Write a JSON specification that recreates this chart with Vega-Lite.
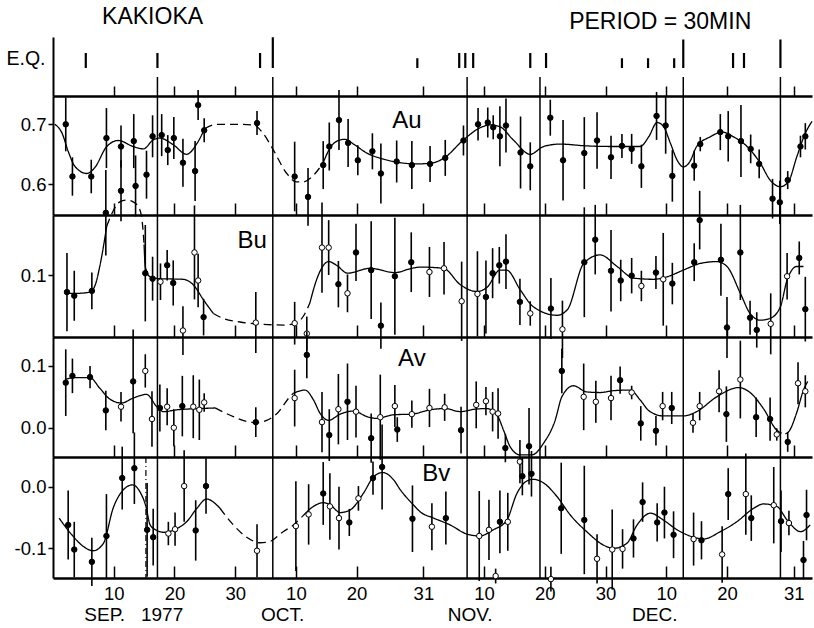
{
  "$schema": "https://vega.github.io/schema/vega-lite/v6.json",
  "padding": {"left": 5, "top": 0, "right": 0, "bottom": 4},
  "spacing": 0,
  "bounds": "flush",
  "config": {
    "view": {"stroke": null},
    "font": "Liberation Sans",
    "axis": {"grid": false, "labelFont": "Liberation Sans", "labelFontSize": 18.5, "labelColor": "black", "domainColor": "black", "tickColor": "black"},
    "text": {"font": "Liberation Sans", "color": "black"}
  },
  "datasets": {
    "ev": [{"d": 17.2}, {"d": 36.2}, {"d": 68.2}, {"d": 80.2}, {"d": 103.8}, {"d": 119.8}],
    "eq": [
      {"d": 5.4, "m": 1}, {"d": 17.2, "m": 1}, {"d": 34.1, "m": 1}, {"d": 36.2, "m": 2.05},
      {"d": 60.0, "m": 0.65}, {"d": 66.9, "m": 1}, {"d": 67.9, "m": 1}, {"d": 69.2, "m": 1},
      {"d": 78.6, "m": 1}, {"d": 81.2, "m": 1}, {"d": 93.7, "m": 0.65}, {"d": 98.0, "m": 0.65},
      {"d": 102.3, "m": 0.65}, {"d": 103.8, "m": 1.9}, {"d": 112.0, "m": 1}, {"d": 113.8, "m": 1}, {"d": 119.8, "m": 1.9}
    ],
    "pts": [
      {"p":"Au","d":2.1,"v":0.700,"e":0.045,"o":0},{"p":"Au","d":3.2,"v":0.613,"e":0.032,"o":0},{"p":"Au","d":6.3,"v":0.613,"e":0.028,"o":0},{"p":"Au","d":8.8,"v":0.677,"e":0.05,"o":0},{"p":"Au","d":11.2,"v":0.663,"e":0.035,"o":0},{"p":"Au","d":13.3,"v":0.672,"e":0.045,"o":0},{"p":"Au","d":15.4,"v":0.616,"e":0.04,"o":0},{"p":"Au","d":16.4,"v":0.68,"e":0.035,"o":0},{"p":"Au","d":17.9,"v":0.682,"e":0.035,"o":0},{"p":"Au","d":18.9,"v":0.657,"e":0.025,"o":0},{"p":"Au","d":19.9,"v":0.677,"e":0.035,"o":0},{"p":"Au","d":21.4,"v":0.636,"e":0.04,"o":0},{"p":"Au","d":23.4,"v":0.622,"e":0.05,"o":0},{"p":"Au","d":23.9,"v":0.732,"e":0.025,"o":0},{"p":"Au","d":24.9,"v":0.69,"e":0.02,"o":0},{"p":"Au","d":33.6,"v":0.702,"e":0.02,"o":0},{"p":"Au","d":39.8,"v":0.613,"e":0.058,"o":0},{"p":"Au","d":42.0,"v":0.579,"e":0.048,"o":0},{"p":"Au","d":44.5,"v":0.632,"e":0.04,"o":0},{"p":"Au","d":45.5,"v":0.663,"e":0.04,"o":0},{"p":"Au","d":47.1,"v":0.707,"e":0.05,"o":0},{"p":"Au","d":48.6,"v":0.669,"e":0.04,"o":0},{"p":"Au","d":50.2,"v":0.64,"e":0.025,"o":0},{"p":"Au","d":52.6,"v":0.655,"e":0.03,"o":0},{"p":"Au","d":54.0,"v":0.618,"e":0.05,"o":0},{"p":"Au","d":56.6,"v":0.638,"e":0.035,"o":0},{"p":"Au","d":59.1,"v":0.632,"e":0.04,"o":0},{"p":"Au","d":62.1,"v":0.634,"e":0.03,"o":0},{"p":"Au","d":64.6,"v":0.644,"e":0.03,"o":0},{"p":"Au","d":67.6,"v":0.673,"e":0.025,"o":0},{"p":"Au","d":70.0,"v":0.70,"e":0.027,"o":0},{"p":"Au","d":71.6,"v":0.703,"e":0.025,"o":0},{"p":"Au","d":72.5,"v":0.695,"e":0.02,"o":0},{"p":"Au","d":73.6,"v":0.68,"e":0.05,"o":0},{"p":"Au","d":74.6,"v":0.698,"e":0.045,"o":0},{"p":"Au","d":77.0,"v":0.653,"e":0.06,"o":0},{"p":"Au","d":78.6,"v":0.63,"e":0.04,"o":0},{"p":"Au","d":81.9,"v":0.711,"e":0.03,"o":0},{"p":"Au","d":84.0,"v":0.64,"e":0.067,"o":0},{"p":"Au","d":87.5,"v":0.652,"e":0.06,"o":0},{"p":"Au","d":89.6,"v":0.673,"e":0.047,"o":0},{"p":"Au","d":91.9,"v":0.645,"e":0.036,"o":0},{"p":"Au","d":93.7,"v":0.664,"e":0.02,"o":0},{"p":"Au","d":95.3,"v":0.659,"e":0.025,"o":0},{"p":"Au","d":96.9,"v":0.63,"e":0.036,"o":0},{"p":"Au","d":99.4,"v":0.714,"e":0.04,"o":0},{"p":"Au","d":100.9,"v":0.698,"e":0.047,"o":0},{"p":"Au","d":102.0,"v":0.614,"e":0.043,"o":0},{"p":"Au","d":105.6,"v":0.631,"e":0.025,"o":0},{"p":"Au","d":106.6,"v":0.667,"e":0.012,"o":0},{"p":"Au","d":109.9,"v":0.687,"e":0.03,"o":0},{"p":"Au","d":111.2,"v":0.68,"e":0.042,"o":0},{"p":"Au","d":113.3,"v":0.672,"e":0.06,"o":0},{"p":"Au","d":114.9,"v":0.659,"e":0.024,"o":0},{"p":"Au","d":116.3,"v":0.634,"e":0.024,"o":0},{"p":"Au","d":118.5,"v":0.576,"e":0.033,"o":0},{"p":"Au","d":119.7,"v":0.57,"e":0.036,"o":0},{"p":"Au","d":121.0,"v":0.607,"e":0.015,"o":0},{"p":"Au","d":123.1,"v":0.663,"e":0.018,"o":0},{"p":"Au","d":123.9,"v":0.68,"e":0.022,"o":0},
      {"p":"Bu","d":2.3,"v":0.072,"e":0.064,"o":0},{"p":"Bu","d":3.5,"v":0.066,"e":0.041,"o":0},{"p":"Bu","d":6.4,"v":0.074,"e":0.03,"o":0},{"p":"Bu","d":8.7,"v":0.202,"e":0.07,"o":0},{"p":"Bu","d":11.2,"v":0.238,"e":0.05,"o":0},{"p":"Bu","d":13.6,"v":0.246,"e":0.05,"o":0},{"p":"Bu","d":15.2,"v":0.103,"e":0.079,"o":0},{"p":"Bu","d":16.4,"v":0.094,"e":0.036,"o":0},{"p":"Bu","d":17.7,"v":0.089,"e":0.03,"o":1},{"p":"Bu","d":18.8,"v":0.116,"e":0.025,"o":0},{"p":"Bu","d":19.8,"v":0.087,"e":0.037,"o":0},{"p":"Bu","d":21.4,"v":0.009,"e":0.04,"o":1},{"p":"Bu","d":23.3,"v":0.137,"e":0.077,"o":1},{"p":"Bu","d":23.9,"v":0.091,"e":0.044,"o":1},{"p":"Bu","d":24.8,"v":0.031,"e":0.03,"o":0},{"p":"Bu","d":33.4,"v":0.022,"e":0.05,"o":1},{"p":"Bu","d":39.8,"v":0.021,"e":0.035,"o":1},{"p":"Bu","d":41.8,"v":0.004,"e":0.028,"o":1},{"p":"Bu","d":44.3,"v":0.145,"e":0.074,"o":1},{"p":"Bu","d":45.4,"v":0.145,"e":0.045,"o":1},{"p":"Bu","d":47.0,"v":0.085,"e":0.038,"o":0},{"p":"Bu","d":48.5,"v":0.070,"e":0.031,"o":1},{"p":"Bu","d":49.9,"v":0.137,"e":0.047,"o":0},{"p":"Bu","d":52.4,"v":0.108,"e":0.08,"o":0},{"p":"Bu","d":54.0,"v":0.017,"e":0.038,"o":0},{"p":"Bu","d":56.3,"v":0.098,"e":0.096,"o":0},{"p":"Bu","d":59.0,"v":0.121,"e":0.049,"o":0},{"p":"Bu","d":62.0,"v":0.105,"e":0.041,"o":1},{"p":"Bu","d":64.4,"v":0.111,"e":0.043,"o":1},{"p":"Bu","d":67.3,"v":0.057,"e":0.065,"o":1},{"p":"Bu","d":69.9,"v":0.069,"e":0.07,"o":1},{"p":"Bu","d":71.3,"v":0.064,"e":0.06,"o":0},{"p":"Bu","d":72.4,"v":0.103,"e":0.041,"o":0},{"p":"Bu","d":73.5,"v":0.116,"e":0.03,"o":0},{"p":"Bu","d":74.6,"v":0.122,"e":0.045,"o":0},{"p":"Bu","d":76.9,"v":0.056,"e":0.038,"o":0},{"p":"Bu","d":78.6,"v":0.037,"e":0.02,"o":1},{"p":"Bu","d":82.0,"v":0.045,"e":0.05,"o":0},{"p":"Bu","d":83.9,"v":0.011,"e":0.047,"o":1},{"p":"Bu","d":87.5,"v":0.121,"e":0.09,"o":0},{"p":"Bu","d":89.3,"v":0.158,"e":0.057,"o":0},{"p":"Bu","d":91.9,"v":0.107,"e":0.067,"o":0},{"p":"Bu","d":93.5,"v":0.091,"e":0.034,"o":0},{"p":"Bu","d":95.3,"v":0.099,"e":0.029,"o":0},{"p":"Bu","d":96.9,"v":0.082,"e":0.025,"o":1},{"p":"Bu","d":99.3,"v":0.104,"e":0.027,"o":0},{"p":"Bu","d":100.5,"v":0.093,"e":0.076,"o":1},{"p":"Bu","d":102.0,"v":0.086,"e":0.034,"o":0},{"p":"Bu","d":105.6,"v":0.121,"e":0.031,"o":0},{"p":"Bu","d":106.5,"v":0.19,"e":0.048,"o":0},{"p":"Bu","d":110.0,"v":0.125,"e":0.059,"o":0},{"p":"Bu","d":111.0,"v":0.014,"e":0.05,"o":0},{"p":"Bu","d":113.2,"v":0.137,"e":0.078,"o":0},{"p":"Bu","d":114.8,"v":0.03,"e":0.028,"o":0},{"p":"Bu","d":115.9,"v":0.01,"e":0.029,"o":0},{"p":"Bu","d":118.2,"v":0.02,"e":0.05,"o":1},{"p":"Bu","d":120.9,"v":0.098,"e":0.038,"o":1},{"p":"Bu","d":122.9,"v":0.128,"e":0.027,"o":0},{"p":"Bu","d":123.9,"v":0.044,"e":0.053,"o":0},
      {"p":"Av","d":2.1,"v":0.073,"e":0.054,"o":0},{"p":"Av","d":3.2,"v":0.084,"e":0.028,"o":0},{"p":"Av","d":6.1,"v":0.082,"e":0.018,"o":0},{"p":"Av","d":8.7,"v":0.028,"e":0.032,"o":0},{"p":"Av","d":11.2,"v":0.034,"e":0.024,"o":1},{"p":"Av","d":13.2,"v":0.075,"e":0.084,"o":0},{"p":"Av","d":15.2,"v":0.092,"e":0.027,"o":1},{"p":"Av","d":16.3,"v":0.014,"e":0.045,"o":1},{"p":"Av","d":17.6,"v":0.032,"e":0.038,"o":0},{"p":"Av","d":18.8,"v":0.034,"e":0.03,"o":1},{"p":"Av","d":19.9,"v":0.0,"e":0.03,"o":1},{"p":"Av","d":21.3,"v":0.035,"e":0.049,"o":0},{"p":"Av","d":23.1,"v":0.034,"e":0.051,"o":1},{"p":"Av","d":24.1,"v":0.029,"e":0.049,"o":1},{"p":"Av","d":24.9,"v":0.041,"e":0.015,"o":1},{"p":"Av","d":33.4,"v":0.009,"e":0.024,"o":0},{"p":"Av","d":39.8,"v":0.048,"e":0.046,"o":1},{"p":"Av","d":41.8,"v":0.118,"e":0.038,"o":0},{"p":"Av","d":44.3,"v":0.009,"e":0.049,"o":1},{"p":"Av","d":45.5,"v":-0.012,"e":0.042,"o":0},{"p":"Av","d":47.0,"v":0.030,"e":0.057,"o":1},{"p":"Av","d":48.5,"v":0.042,"e":0.062,"o":0},{"p":"Av","d":49.9,"v":0.026,"e":0.042,"o":1},{"p":"Av","d":52.4,"v":-0.017,"e":0.04,"o":0},{"p":"Av","d":53.9,"v":0.017,"e":0.069,"o":1},{"p":"Av","d":56.3,"v":0.035,"e":0.034,"o":1},{"p":"Av","d":56.7,"v":-0.003,"e":0.02,"o":0},{"p":"Av","d":59.1,"v":0.022,"e":0.022,"o":1},{"p":"Av","d":62.0,"v":0.032,"e":0.031,"o":1},{"p":"Av","d":64.5,"v":0.033,"e":0.022,"o":1},{"p":"Av","d":67.2,"v":-0.004,"e":0.038,"o":0},{"p":"Av","d":69.7,"v":0.037,"e":0.038,"o":1},{"p":"Av","d":71.3,"v":0.043,"e":0.023,"o":1},{"p":"Av","d":72.4,"v":0.026,"e":0.032,"o":1},{"p":"Av","d":73.3,"v":0.023,"e":0.041,"o":1},{"p":"Av","d":74.5,"v":-0.033,"e":0.023,"o":0},{"p":"Av","d":76.9,"v":-0.055,"e":0.035,"o":1},{"p":"Av","d":78.4,"v":-0.03,"e":0.062,"o":0},{"p":"Av","d":83.8,"v":0.092,"e":0.036,"o":0},{"p":"Av","d":87.4,"v":0.05,"e":0.054,"o":1},{"p":"Av","d":89.4,"v":0.042,"e":0.034,"o":1},{"p":"Av","d":91.9,"v":0.048,"e":0.036,"o":1},{"p":"Av","d":93.4,"v":0.077,"e":0.022,"o":0},{"p":"Av","d":95.3,"v":0.057,"e":0.011,"o":1},{"p":"Av","d":96.8,"v":0.007,"e":0.028,"o":0},{"p":"Av","d":99.3,"v":-0.005,"e":0.024,"o":0},{"p":"Av","d":100.4,"v":0.035,"e":0.023,"o":1},{"p":"Av","d":101.9,"v":0.032,"e":0.026,"o":0},{"p":"Av","d":105.4,"v":0.008,"e":0.016,"o":1},{"p":"Av","d":106.5,"v":0.035,"e":0.023,"o":1},{"p":"Av","d":109.7,"v":0.059,"e":0.034,"o":1},{"p":"Av","d":110.9,"v":0.022,"e":0.045,"o":0},{"p":"Av","d":113.2,"v":0.078,"e":0.063,"o":1},{"p":"Av","d":115.8,"v":0.017,"e":0.032,"o":0},{"p":"Av","d":118.1,"v":0.014,"e":0.035,"o":0},{"p":"Av","d":119.2,"v":-0.011,"e":0.01,"o":1},{"p":"Av","d":121.0,"v":-0.023,"e":0.016,"o":0},{"p":"Av","d":122.7,"v":0.072,"e":0.034,"o":1},{"p":"Av","d":123.9,"v":0.059,"e":0.026,"o":1},
      {"p":"Bv","d":2.5,"v":-0.062,"e":0.056,"o":0},{"p":"Bv","d":3.5,"v":-0.102,"e":0.045,"o":0},{"p":"Bv","d":6.4,"v":-0.122,"e":0.039,"o":0},{"p":"Bv","d":8.8,"v":-0.080,"e":0.068,"o":0},{"p":"Bv","d":11.4,"v":0.014,"e":0.051,"o":0},{"p":"Bv","d":13.4,"v":0.030,"e":0.058,"o":0},{"p":"Bv","d":15.5,"v":-0.070,"e":0.076,"o":0},{"p":"Bv","d":16.5,"v":-0.082,"e":0.046,"o":0},{"p":"Bv","d":19.0,"v":-0.076,"e":0.019,"o":1},{"p":"Bv","d":20.1,"v":-0.069,"e":0.027,"o":1},{"p":"Bv","d":21.6,"v":0.001,"e":0.058,"o":1},{"p":"Bv","d":23.5,"v":-0.071,"e":0.049,"o":0},{"p":"Bv","d":25.2,"v":0.001,"e":0.045,"o":0},{"p":"Bv","d":33.6,"v":-0.104,"e":0.043,"o":1},{"p":"Bv","d":40.0,"v":-0.064,"e":0.073,"o":1},{"p":"Bv","d":42.1,"v":-0.045,"e":0.049,"o":1},{"p":"Bv","d":44.5,"v":-0.011,"e":0.051,"o":0},{"p":"Bv","d":45.6,"v":-0.032,"e":0.054,"o":1},{"p":"Bv","d":47.1,"v":-0.051,"e":0.051,"o":1},{"p":"Bv","d":48.8,"v":-0.058,"e":0.022,"o":0},{"p":"Bv","d":50.3,"v":-0.019,"e":0.02,"o":1},{"p":"Bv","d":52.7,"v":0.014,"e":0.027,"o":0},{"p":"Bv","d":54.2,"v":0.032,"e":0.069,"o":0},{"p":"Bv","d":59.2,"v":-0.052,"e":0.054,"o":0},{"p":"Bv","d":62.4,"v":-0.065,"e":0.038,"o":1},{"p":"Bv","d":64.7,"v":-0.051,"e":0.043,"o":0},{"p":"Bv","d":70.2,"v":-0.080,"e":0.073,"o":1},{"p":"Bv","d":71.8,"v":-0.070,"e":0.049,"o":1},{"p":"Bv","d":72.9,"v":-0.145,"e":0.012,"o":1},{"p":"Bv","d":73.6,"v":-0.057,"e":0.051,"o":0},{"p":"Bv","d":74.9,"v":-0.057,"e":0.047,"o":1},{"p":"Bv","d":77.3,"v":0.017,"e":0.031,"o":0},{"p":"Bv","d":78.8,"v":0.021,"e":0.037,"o":0},{"p":"Bv","d":82.0,"v":-0.15,"e":0.02,"o":1},{"p":"Bv","d":83.7,"v":-0.035,"e":0.074,"o":0},{"p":"Bv","d":87.5,"v":-0.054,"e":0.088,"o":0},{"p":"Bv","d":89.6,"v":-0.117,"e":0.04,"o":1},{"p":"Bv","d":92.1,"v":-0.102,"e":0.065,"o":1},{"p":"Bv","d":93.8,"v":-0.101,"e":0.032,"o":1},{"p":"Bv","d":95.6,"v":-0.084,"e":0.031,"o":0},{"p":"Bv","d":97.1,"v":-0.025,"e":0.032,"o":0},{"p":"Bv","d":99.5,"v":-0.058,"e":0.031,"o":0},{"p":"Bv","d":100.7,"v":-0.042,"e":0.042,"o":0},{"p":"Bv","d":102.2,"v":-0.078,"e":0.038,"o":0},{"p":"Bv","d":105.5,"v":-0.085,"e":0.043,"o":1},{"p":"Bv","d":106.8,"v":-0.087,"e":0.031,"o":0},{"p":"Bv","d":110.2,"v":-0.11,"e":0.046,"o":1},{"p":"Bv","d":111.2,"v":-0.012,"e":0.042,"o":0},{"p":"Bv","d":114.1,"v":-0.012,"e":0.066,"o":1},{"p":"Bv","d":115.0,"v":-0.051,"e":0.037,"o":0},{"p":"Bv","d":118.7,"v":-0.03,"e":0.062,"o":1},{"p":"Bv","d":119.9,"v":-0.056,"e":0.05,"o":0},{"p":"Bv","d":121.2,"v":-0.059,"e":0.02,"o":1},{"p":"Bv","d":123.6,"v":-0.119,"e":0.031,"o":0},{"p":"Bv","d":124.1,"v":-0.046,"e":0.041,"o":0}
    ],
    "crv": [
      {"p":"Au","s":"a1","t":"s","d":0.3,"v":0.700},{"p":"Au","s":"a1","t":"s","d":1.5,"v":0.685},{"p":"Au","s":"a1","t":"s","d":2.5,"v":0.655},{"p":"Au","s":"a1","t":"s","d":3.6,"v":0.630},{"p":"Au","s":"a1","t":"s","d":5.55,"v":0.618},{"p":"Au","s":"a1","t":"s","d":6.9,"v":0.628},{"p":"Au","s":"a1","t":"s","d":8.85,"v":0.663},{"p":"Au","s":"a1","t":"s","d":10.75,"v":0.673},{"p":"Au","s":"a1","t":"s","d":13.2,"v":0.663},{"p":"Au","s":"a1","t":"s","d":14.9,"v":0.659},{"p":"Au","s":"a1","t":"s","d":16.5,"v":0.674},{"p":"Au","s":"a1","t":"s","d":17.6,"v":0.677},{"p":"Au","s":"a1","t":"s","d":19.8,"v":0.666},{"p":"Au","s":"a1","t":"s","d":22.0,"v":0.650},{"p":"Au","s":"a1","t":"s","d":23.7,"v":0.668},{"p":"Au","s":"a1","t":"s","d":25.0,"v":0.693},
      {"p":"Au","s":"a2","t":"d","d":25.0,"v":0.693},{"p":"Au","s":"a2","t":"d","d":27.0,"v":0.700},{"p":"Au","s":"a2","t":"d","d":29.7,"v":0.700},{"p":"Au","s":"a2","t":"d","d":33.0,"v":0.699},{"p":"Au","s":"a2","t":"d","d":34.6,"v":0.685},{"p":"Au","s":"a2","t":"d","d":36.3,"v":0.657},{"p":"Au","s":"a2","t":"d","d":38.5,"v":0.618},{"p":"Au","s":"a2","t":"d","d":40.1,"v":0.604},{"p":"Au","s":"a2","t":"d","d":41.2,"v":0.604},{"p":"Au","s":"a2","t":"d","d":42.9,"v":0.615},{"p":"Au","s":"a2","t":"d","d":44.5,"v":0.636},
      {"p":"Au","s":"a3","t":"s","d":44.5,"v":0.636},{"p":"Au","s":"a3","t":"s","d":45.6,"v":0.660},{"p":"Au","s":"a3","t":"s","d":47.3,"v":0.674},{"p":"Au","s":"a3","t":"s","d":48.1,"v":0.675},{"p":"Au","s":"a3","t":"s","d":49.5,"v":0.667},{"p":"Au","s":"a3","t":"s","d":51.7,"v":0.652},{"p":"Au","s":"a3","t":"s","d":54.4,"v":0.642},{"p":"Au","s":"a3","t":"s","d":57.2,"v":0.636},{"p":"Au","s":"a3","t":"s","d":59.9,"v":0.634},{"p":"Au","s":"a3","t":"s","d":62.1,"v":0.635},{"p":"Au","s":"a3","t":"s","d":64.3,"v":0.643},{"p":"Au","s":"a3","t":"s","d":67.6,"v":0.674},{"p":"Au","s":"a3","t":"s","d":70.3,"v":0.694},{"p":"Au","s":"a3","t":"s","d":72.0,"v":0.699},{"p":"Au","s":"a3","t":"s","d":73.6,"v":0.696},{"p":"Au","s":"a3","t":"s","d":75.8,"v":0.674},{"p":"Au","s":"a3","t":"s","d":78.6,"v":0.650},{"p":"Au","s":"a3","t":"s","d":80.8,"v":0.663},{"p":"Au","s":"a3","t":"s","d":83.5,"v":0.667},{"p":"Au","s":"a3","t":"s","d":87.9,"v":0.664},{"p":"Au","s":"a3","t":"s","d":92.3,"v":0.663},{"p":"Au","s":"a3","t":"s","d":96.7,"v":0.663},{"p":"Au","s":"a3","t":"s","d":98.1,"v":0.679},{"p":"Au","s":"a3","t":"s","d":99.5,"v":0.703},{"p":"Au","s":"a3","t":"s","d":100.5,"v":0.697},{"p":"Au","s":"a3","t":"s","d":101.7,"v":0.668},{"p":"Au","s":"a3","t":"s","d":102.8,"v":0.640},{"p":"Au","s":"a3","t":"s","d":103.8,"v":0.629},{"p":"Au","s":"a3","t":"s","d":104.9,"v":0.638},{"p":"Au","s":"a3","t":"s","d":106.0,"v":0.663},{"p":"Au","s":"a3","t":"s","d":108.2,"v":0.679},{"p":"Au","s":"a3","t":"s","d":110.2,"v":0.687},{"p":"Au","s":"a3","t":"s","d":112.1,"v":0.679},{"p":"Au","s":"a3","t":"s","d":114.3,"v":0.663},{"p":"Au","s":"a3","t":"s","d":116.5,"v":0.635},{"p":"Au","s":"a3","t":"s","d":118.1,"v":0.607},{"p":"Au","s":"a3","t":"s","d":119.8,"v":0.596},{"p":"Au","s":"a3","t":"s","d":121.1,"v":0.604},{"p":"Au","s":"a3","t":"s","d":122.5,"v":0.646},{"p":"Au","s":"a3","t":"s","d":123.9,"v":0.685},{"p":"Au","s":"a3","t":"s","d":125.0,"v":0.705},
      {"p":"Bu","s":"b1","t":"s","d":2.3,"v":0.070},{"p":"Bu","s":"b1","t":"s","d":4.0,"v":0.070},{"p":"Bu","s":"b1","t":"s","d":6.1,"v":0.072},{"p":"Bu","s":"b1","t":"s","d":7.0,"v":0.085},{"p":"Bu","s":"b1","t":"s","d":7.7,"v":0.114},{"p":"Bu","s":"b1","t":"s","d":8.85,"v":0.180},
      {"p":"Bu","s":"b2","t":"d","d":8.85,"v":0.180},{"p":"Bu","s":"b2","t":"d","d":9.9,"v":0.205},{"p":"Bu","s":"b2","t":"d","d":11.0,"v":0.220},{"p":"Bu","s":"b2","t":"d","d":12.1,"v":0.223},{"p":"Bu","s":"b2","t":"d","d":13.2,"v":0.220},{"p":"Bu","s":"b2","t":"d","d":14.05,"v":0.212},{"p":"Bu","s":"b2","t":"d","d":14.6,"v":0.195},{"p":"Bu","s":"b2","t":"d","d":15.0,"v":0.150},
      {"p":"Bu","s":"b3","t":"s","d":15.0,"v":0.150},{"p":"Bu","s":"b3","t":"s","d":15.2,"v":0.114},{"p":"Bu","s":"b3","t":"s","d":16.0,"v":0.097},{"p":"Bu","s":"b3","t":"s","d":17.6,"v":0.094},{"p":"Bu","s":"b3","t":"s","d":21.4,"v":0.093},{"p":"Bu","s":"b3","t":"s","d":23.1,"v":0.084},{"p":"Bu","s":"b3","t":"s","d":24.8,"v":0.059},{"p":"Bu","s":"b3","t":"s","d":26.4,"v":0.037},
      {"p":"Bu","s":"b4","t":"d","d":26.4,"v":0.037},{"p":"Bu","s":"b4","t":"d","d":28.0,"v":0.029},{"p":"Bu","s":"b4","t":"d","d":30.8,"v":0.023},{"p":"Bu","s":"b4","t":"d","d":33.6,"v":0.020},{"p":"Bu","s":"b4","t":"d","d":38.0,"v":0.018},{"p":"Bu","s":"b4","t":"d","d":40.2,"v":0.022},{"p":"Bu","s":"b4","t":"d","d":41.2,"v":0.032},{"p":"Bu","s":"b4","t":"d","d":42.3,"v":0.054},
      {"p":"Bu","s":"b5","t":"s","d":42.3,"v":0.054},{"p":"Bu","s":"b5","t":"s","d":43.4,"v":0.092},{"p":"Bu","s":"b5","t":"s","d":45.4,"v":0.122},{"p":"Bu","s":"b5","t":"s","d":46.7,"v":0.116},{"p":"Bu","s":"b5","t":"s","d":48.5,"v":0.103},{"p":"Bu","s":"b5","t":"s","d":52.2,"v":0.111},{"p":"Bu","s":"b5","t":"s","d":56.3,"v":0.104},{"p":"Bu","s":"b5","t":"s","d":59.1,"v":0.111},{"p":"Bu","s":"b5","t":"s","d":60.5,"v":0.113},{"p":"Bu","s":"b5","t":"s","d":64.3,"v":0.111},{"p":"Bu","s":"b5","t":"s","d":67.1,"v":0.084},{"p":"Bu","s":"b5","t":"s","d":69.8,"v":0.073},{"p":"Bu","s":"b5","t":"s","d":71.5,"v":0.080},{"p":"Bu","s":"b5","t":"s","d":73.6,"v":0.108},{"p":"Bu","s":"b5","t":"s","d":74.7,"v":0.108},{"p":"Bu","s":"b5","t":"s","d":77.0,"v":0.075},{"p":"Bu","s":"b5","t":"s","d":79.1,"v":0.048},{"p":"Bu","s":"b5","t":"s","d":83.0,"v":0.034},{"p":"Bu","s":"b5","t":"s","d":84.7,"v":0.043},{"p":"Bu","s":"b5","t":"s","d":87.4,"v":0.119},{"p":"Bu","s":"b5","t":"s","d":90.1,"v":0.133},{"p":"Bu","s":"b5","t":"s","d":92.9,"v":0.114},{"p":"Bu","s":"b5","t":"s","d":95.6,"v":0.095},{"p":"Bu","s":"b5","t":"s","d":98.9,"v":0.093},{"p":"Bu","s":"b5","t":"s","d":101.1,"v":0.097},{"p":"Bu","s":"b5","t":"s","d":103.8,"v":0.108},{"p":"Bu","s":"b5","t":"s","d":106.6,"v":0.119},{"p":"Bu","s":"b5","t":"s","d":109.3,"v":0.122},{"p":"Bu","s":"b5","t":"s","d":111.0,"v":0.114},{"p":"Bu","s":"b5","t":"s","d":113.2,"v":0.070},{"p":"Bu","s":"b5","t":"s","d":114.8,"v":0.037},{"p":"Bu","s":"b5","t":"s","d":116.5,"v":0.026},{"p":"Bu","s":"b5","t":"s","d":118.1,"v":0.029},{"p":"Bu","s":"b5","t":"s","d":119.8,"v":0.048},{"p":"Bu","s":"b5","t":"s","d":120.9,"v":0.092},{"p":"Bu","s":"b5","t":"s","d":122.5,"v":0.114},{"p":"Bu","s":"b5","t":"s","d":123.6,"v":0.114},
      {"p":"Av","s":"c1","t":"s","d":2.0,"v":0.078},{"p":"Av","s":"c1","t":"s","d":3.3,"v":0.081},{"p":"Av","s":"c1","t":"s","d":6.1,"v":0.081},{"p":"Av","s":"c1","t":"s","d":7.7,"v":0.064},{"p":"Av","s":"c1","t":"s","d":9.4,"v":0.046},{"p":"Av","s":"c1","t":"s","d":11.3,"v":0.040},{"p":"Av","s":"c1","t":"s","d":13.2,"v":0.048},{"p":"Av","s":"c1","t":"s","d":15.4,"v":0.054},{"p":"Av","s":"c1","t":"s","d":17.1,"v":0.034},{"p":"Av","s":"c1","t":"s","d":18.2,"v":0.026},{"p":"Av","s":"c1","t":"s","d":20.4,"v":0.029},{"p":"Av","s":"c1","t":"s","d":24.2,"v":0.031},{"p":"Av","s":"c1","t":"s","d":26.7,"v":0.032},
      {"p":"Av","s":"c2","t":"d","d":26.7,"v":0.032},{"p":"Av","s":"c2","t":"d","d":29.7,"v":0.018},{"p":"Av","s":"c2","t":"d","d":31.9,"v":0.010},{"p":"Av","s":"c2","t":"d","d":33.6,"v":0.008},{"p":"Av","s":"c2","t":"d","d":35.2,"v":0.012},{"p":"Av","s":"c2","t":"d","d":36.9,"v":0.023},{"p":"Av","s":"c2","t":"d","d":39.0,"v":0.050},{"p":"Av","s":"c2","t":"d","d":39.6,"v":0.056},
      {"p":"Av","s":"c3","t":"s","d":39.6,"v":0.056},{"p":"Av","s":"c3","t":"s","d":41.5,"v":0.061},{"p":"Av","s":"c3","t":"s","d":42.9,"v":0.045},{"p":"Av","s":"c3","t":"s","d":44.0,"v":0.023},{"p":"Av","s":"c3","t":"s","d":45.4,"v":0.012},{"p":"Av","s":"c3","t":"s","d":47.3,"v":0.022},{"p":"Av","s":"c3","t":"s","d":49.5,"v":0.027},{"p":"Av","s":"c3","t":"s","d":51.7,"v":0.018},{"p":"Av","s":"c3","t":"s","d":53.3,"v":0.015},{"p":"Av","s":"c3","t":"s","d":56.1,"v":0.021},{"p":"Av","s":"c3","t":"s","d":59.1,"v":0.022},{"p":"Av","s":"c3","t":"s","d":62.1,"v":0.029},{"p":"Av","s":"c3","t":"s","d":64.6,"v":0.031},{"p":"Av","s":"c3","t":"s","d":67.1,"v":0.026},{"p":"Av","s":"c3","t":"s","d":69.5,"v":0.030},{"p":"Av","s":"c3","t":"s","d":71.4,"v":0.031},{"p":"Av","s":"c3","t":"s","d":73.1,"v":0.021},{"p":"Av","s":"c3","t":"s","d":74.2,"v":-0.004},{"p":"Av","s":"c3","t":"s","d":75.3,"v":-0.031},{"p":"Av","s":"c3","t":"s","d":76.9,"v":-0.044},{"p":"Av","s":"c3","t":"s","d":78.9,"v":-0.044},{"p":"Av","s":"c3","t":"s","d":80.8,"v":-0.025},{"p":"Av","s":"c3","t":"s","d":82.7,"v":0.012},{"p":"Av","s":"c3","t":"s","d":83.8,"v":0.050},{"p":"Av","s":"c3","t":"s","d":85.7,"v":0.068},{"p":"Av","s":"c3","t":"s","d":87.9,"v":0.058},{"p":"Av","s":"c3","t":"s","d":90.1,"v":0.057},{"p":"Av","s":"c3","t":"s","d":92.3,"v":0.060},{"p":"Av","s":"c3","t":"s","d":95.1,"v":0.061},{"p":"Av","s":"c3","t":"s","d":96.7,"v":0.045},{"p":"Av","s":"c3","t":"s","d":98.2,"v":0.027},{"p":"Av","s":"c3","t":"s","d":100.5,"v":0.019},{"p":"Av","s":"c3","t":"s","d":103.8,"v":0.019},{"p":"Av","s":"c3","t":"s","d":106.0,"v":0.026},{"p":"Av","s":"c3","t":"s","d":109.3,"v":0.050},{"p":"Av","s":"c3","t":"s","d":112.9,"v":0.065},{"p":"Av","s":"c3","t":"s","d":114.8,"v":0.057},{"p":"Av","s":"c3","t":"s","d":117.0,"v":0.031},{"p":"Av","s":"c3","t":"s","d":119.2,"v":-0.004},{"p":"Av","s":"c3","t":"s","d":120.0,"v":-0.009},
      {"p":"Av","s":"c4","t":"s","d":120.6,"v":-0.010},{"p":"Av","s":"c4","t":"s","d":121.2,"v":-0.006},{"p":"Av","s":"c4","t":"s","d":122.5,"v":0.025},{"p":"Av","s":"c4","t":"s","d":123.6,"v":0.061},{"p":"Av","s":"c4","t":"s","d":124.3,"v":0.075},
      {"p":"Bv","s":"d1","t":"s","d":1.0,"v":-0.051},{"p":"Bv","s":"d1","t":"s","d":3.1,"v":-0.078},{"p":"Bv","s":"d1","t":"s","d":5.0,"v":-0.097},{"p":"Bv","s":"d1","t":"s","d":6.6,"v":-0.104},{"p":"Bv","s":"d1","t":"s","d":8.3,"v":-0.092},{"p":"Bv","s":"d1","t":"s","d":9.9,"v":-0.035},{"p":"Bv","s":"d1","t":"s","d":11.6,"v":-0.005},{"p":"Bv","s":"d1","t":"s","d":13.1,"v":0.003},{"p":"Bv","s":"d1","t":"s","d":14.3,"v":-0.008},{"p":"Bv","s":"d1","t":"s","d":15.3,"v":-0.032},{"p":"Bv","s":"d1","t":"s","d":16.0,"v":-0.062},{"p":"Bv","s":"d1","t":"s","d":17.1,"v":-0.071},{"p":"Bv","s":"d1","t":"s","d":18.2,"v":-0.074},{"p":"Bv","s":"d1","t":"s","d":20.4,"v":-0.068},{"p":"Bv","s":"d1","t":"s","d":22.0,"v":-0.057},{"p":"Bv","s":"d1","t":"s","d":23.7,"v":-0.035},{"p":"Bv","s":"d1","t":"s","d":25.3,"v":-0.020},{"p":"Bv","s":"d1","t":"s","d":27.0,"v":-0.030},{"p":"Bv","s":"d1","t":"s","d":27.5,"v":-0.035},
      {"p":"Bv","s":"d2","t":"d","d":27.5,"v":-0.035},{"p":"Bv","s":"d2","t":"d","d":29.7,"v":-0.062},{"p":"Bv","s":"d2","t":"d","d":31.9,"v":-0.082},{"p":"Bv","s":"d2","t":"d","d":34.1,"v":-0.091},{"p":"Bv","s":"d2","t":"d","d":35.7,"v":-0.089},{"p":"Bv","s":"d2","t":"d","d":37.9,"v":-0.073},{"p":"Bv","s":"d2","t":"d","d":39.6,"v":-0.062},{"p":"Bv","s":"d2","t":"d","d":41.0,"v":-0.049},
      {"p":"Bv","s":"d3","t":"s","d":41.0,"v":-0.049},{"p":"Bv","s":"d3","t":"s","d":42.9,"v":-0.032},{"p":"Bv","s":"d3","t":"s","d":44.5,"v":-0.026},{"p":"Bv","s":"d3","t":"s","d":45.6,"v":-0.029},{"p":"Bv","s":"d3","t":"s","d":47.3,"v":-0.042},{"p":"Bv","s":"d3","t":"s","d":48.9,"v":-0.038},{"p":"Bv","s":"d3","t":"s","d":51.1,"v":-0.011},{"p":"Bv","s":"d3","t":"s","d":52.8,"v":0.016},{"p":"Bv","s":"d3","t":"s","d":54.3,"v":0.023},{"p":"Bv","s":"d3","t":"s","d":56.1,"v":0.011},{"p":"Bv","s":"d3","t":"s","d":57.2,"v":-0.005},{"p":"Bv","s":"d3","t":"s","d":59.4,"v":-0.030},{"p":"Bv","s":"d3","t":"s","d":60.5,"v":-0.041},{"p":"Bv","s":"d3","t":"s","d":62.7,"v":-0.051},{"p":"Bv","s":"d3","t":"s","d":65.4,"v":-0.062},{"p":"Bv","s":"d3","t":"s","d":68.2,"v":-0.077},{"p":"Bv","s":"d3","t":"s","d":70.3,"v":-0.080},{"p":"Bv","s":"d3","t":"s","d":72.5,"v":-0.070},{"p":"Bv","s":"d3","t":"s","d":74.7,"v":-0.055},{"p":"Bv","s":"d3","t":"s","d":76.4,"v":-0.011},{"p":"Bv","s":"d3","t":"s","d":78.0,"v":0.009},{"p":"Bv","s":"d3","t":"s","d":79.1,"v":0.012},{"p":"Bv","s":"d3","t":"s","d":80.8,"v":0.006},{"p":"Bv","s":"d3","t":"s","d":83.0,"v":-0.016},{"p":"Bv","s":"d3","t":"s","d":85.2,"v":-0.046},{"p":"Bv","s":"d3","t":"s","d":87.9,"v":-0.073},{"p":"Bv","s":"d3","t":"s","d":90.7,"v":-0.095},{"p":"Bv","s":"d3","t":"s","d":92.3,"v":-0.100},{"p":"Bv","s":"d3","t":"s","d":94.5,"v":-0.092},{"p":"Bv","s":"d3","t":"s","d":96.2,"v":-0.062},{"p":"Bv","s":"d3","t":"s","d":98.4,"v":-0.043},{"p":"Bv","s":"d3","t":"s","d":100.5,"v":-0.054},{"p":"Bv","s":"d3","t":"s","d":102.8,"v":-0.070},{"p":"Bv","s":"d3","t":"s","d":105.5,"v":-0.082},{"p":"Bv","s":"d3","t":"s","d":107.1,"v":-0.085},{"p":"Bv","s":"d3","t":"s","d":109.9,"v":-0.073},{"p":"Bv","s":"d3","t":"s","d":112.6,"v":-0.057},{"p":"Bv","s":"d3","t":"s","d":115.4,"v":-0.035},{"p":"Bv","s":"d3","t":"s","d":117.0,"v":-0.028},{"p":"Bv","s":"d3","t":"s","d":119.2,"v":-0.032},{"p":"Bv","s":"d3","t":"s","d":120.9,"v":-0.054},{"p":"Bv","s":"d3","t":"s","d":123.1,"v":-0.073},{"p":"Bv","s":"d3","t":"s","d":124.7,"v":-0.062}
    ],
    "lbl": [
      {"p":"Au","d":58.3,"v":0.706,"t":"Au"},
      {"p":"Bu","d":32.8,"v":0.156,"t":"Bu"},
      {"p":"Av","d":59.1,"v":0.111,"t":"Av"},
      {"p":"Bv","d":63.1,"v":0.021,"t":"Bv"}
    ],
    "mon": [
      {"d":13.3,"t":"SEP.\u00a0\u00a0\u00a01977"},{"d":37.8,"t":"OCT."},{"d":68.7,"t":"NOV."},{"d":99.1,"t":"DEC."}
    ]
  },
  "vconcat": [
    {
      "width": 759, "height": 37,
      "layer": [
        {"data": {"values": [{"d": 16.4, "t": "KAKIOKA"}]}, "mark": {"type": "text", "fontSize": 23, "baseline": "middle", "dy": -1.5},
         "encoding": {"x": {"field": "d", "type": "quantitative", "scale": {"domain": [0, 125], "nice": false, "zero": false}, "axis": null}, "text": {"field": "t"}}},
        {"data": {"values": [{"d": 100.0, "t": "PERIOD = 30MIN"}]}, "mark": {"type": "text", "fontSize": 23, "baseline": "middle", "dy": 3.5},
         "encoding": {"x": {"field": "d", "type": "quantitative"}, "text": {"field": "t"}}}
      ]
    },
    {
      "width": 759, "height": 59,
      "layer": [
        {"data": {"name": "eq"}, "mark": {"type": "rule", "strokeWidth": 2.2, "color": "black"},
         "encoding": {
           "x": {"field": "d", "type": "quantitative", "scale": {"domain": [0, 125], "nice": false, "zero": false},
                 "axis": {"orient": "bottom", "values": [10,20,30,40,50,61,71,81,91,101,111,122], "labels": false, "tickSize": -10, "tickWidth": 1.5, "domainWidth": 2.5, "title": null}},
           "y": {"field": "m", "type": "quantitative", "scale": {"domain": [-1.867, 2.067], "nice": false, "zero": false},
                 "axis": {"orient": "left", "values": [0.633], "labelExpr": "'E.Q.'", "tickSize": 0, "labelPadding": 8, "labelFontSize": 19.5, "domainWidth": 2, "title": null}},
           "y2": {"datum": 0}
         }},
        {"data": {"name": "ev"}, "mark": {"type": "rule", "strokeWidth": 1.5, "color": "black"},
         "encoding": {"x": {"field": "d", "type": "quantitative"}, "y": {"datum": -0.6}, "y2": {"datum": -1.867}}}
      ]
    },
    {
      "width": 759, "height": 119,
      "layer": [
        {"data": {"name": "ev"}, "mark": {"type": "rule", "strokeWidth": 1.5, "color": "black"},
         "encoding": {"x": {"field": "d", "type": "quantitative", "scale": {"domain": [0, 125], "nice": false, "zero": false},
                 "axis": {"orient": "bottom", "values": [10,20,30,40,50,61,71,81,91,101,111,122], "labels": false, "tickSize": -12, "tickWidth": 1.5, "domainWidth": 2.5, "title": null}}}},
        {"data": {"name": "pts"}, "transform": [{"filter": "datum.p == 'Au'"}], "mark": {"type": "errorbar", "color": "black", "thickness": 1.6},
         "encoding": {"x": {"field": "d", "type": "quantitative"},
           "y": {"field": "v", "type": "quantitative", "scale": {"domain": [0.5488, 0.7472], "nice": false, "zero": false},
                 "axis": {"orient": "left", "values": [0.6, 0.7], "format": ".1f", "labelExpr": "replace(datum.label, '\u2212', '-')", "tickSize": 5, "tickWidth": 1.5, "labelPadding": 2, "domainWidth": 2, "title": null}},
           "yError": {"field": "e"}}},
        {"data": {"name": "crv"}, "transform": [{"filter": "datum.p == 'Au'"}], "mark": {"type": "line", "interpolate": "monotone", "color": "black", "strokeWidth": 1.3},
         "encoding": {"x": {"field": "d", "type": "quantitative"}, "y": {"field": "v", "type": "quantitative"}, "detail": {"field": "s"},
           "strokeDash": {"field": "t", "type": "nominal", "scale": {"domain": ["s", "d"], "range": [[1, 0], [8, 5]]}, "legend": null}}},
        {"data": {"name": "pts"}, "transform": [{"filter": "datum.p == 'Au'"}], "mark": {"type": "point", "shape": "circle", "filled": true, "size": 30, "stroke": "black", "strokeWidth": 1, "opacity": 1},
         "encoding": {"x": {"field": "d", "type": "quantitative"}, "y": {"field": "v", "type": "quantitative"},
           "fill": {"field": "o", "type": "nominal", "scale": {"domain": [0, 1], "range": ["black", "white"]}, "legend": null}}},
        {"data": {"name": "lbl"}, "transform": [{"filter": "datum.p == 'Au'"}], "mark": {"type": "text", "fontSize": 24, "baseline": "middle"},
         "encoding": {"x": {"field": "d", "type": "quantitative"}, "y": {"field": "v", "type": "quantitative"}, "text": {"field": "t"}}}
      ]
    },
    {
      "width": 759, "height": 122,
      "layer": [
        {"data": {"name": "ev"}, "mark": {"type": "rule", "strokeWidth": 1.5, "color": "black"},
         "encoding": {"x": {"field": "d", "type": "quantitative", "scale": {"domain": [0, 125], "nice": false, "zero": false},
                 "axis": {"orient": "bottom", "values": [10,20,30,40,50,61,71,81,91,101,111,122], "labels": false, "tickSize": -12, "tickWidth": 1.5, "domainWidth": 2.5, "title": null}}}},
        {"data": {"name": "pts"}, "transform": [{"filter": "datum.p == 'Bu'"}], "mark": {"type": "errorbar", "color": "black", "thickness": 1.6},
         "encoding": {"x": {"field": "d", "type": "quantitative"},
           "y": {"field": "v", "type": "quantitative", "scale": {"domain": [-0.0016, 0.1984], "nice": false, "zero": false},
                 "axis": {"orient": "left", "values": [0.1], "format": ".1f", "labelExpr": "replace(datum.label, '\u2212', '-')", "tickSize": 5, "tickWidth": 1.5, "labelPadding": 2, "domainWidth": 2, "title": null}},
           "yError": {"field": "e"}}},
        {"data": {"name": "crv"}, "transform": [{"filter": "datum.p == 'Bu'"}], "mark": {"type": "line", "interpolate": "monotone", "color": "black", "strokeWidth": 1.3},
         "encoding": {"x": {"field": "d", "type": "quantitative"}, "y": {"field": "v", "type": "quantitative"}, "detail": {"field": "s"},
           "strokeDash": {"field": "t", "type": "nominal", "scale": {"domain": ["s", "d"], "range": [[1, 0], [8, 5]]}, "legend": null}}},
        {"data": {"name": "pts"}, "transform": [{"filter": "datum.p == 'Bu'"}], "mark": {"type": "point", "shape": "circle", "filled": true, "size": 30, "stroke": "black", "strokeWidth": 1, "opacity": 1},
         "encoding": {"x": {"field": "d", "type": "quantitative"}, "y": {"field": "v", "type": "quantitative"},
           "fill": {"field": "o", "type": "nominal", "scale": {"domain": [0, 1], "range": ["black", "white"]}, "legend": null}}},
        {"data": {"name": "lbl"}, "transform": [{"filter": "datum.p == 'Bu'"}], "mark": {"type": "text", "fontSize": 24, "baseline": "middle"},
         "encoding": {"x": {"field": "d", "type": "quantitative"}, "y": {"field": "v", "type": "quantitative"}, "text": {"field": "t"}}}
      ]
    },
    {
      "width": 759, "height": 120,
      "layer": [
        {"data": {"name": "ev"}, "mark": {"type": "rule", "strokeWidth": 1.5, "color": "black"},
         "encoding": {"x": {"field": "d", "type": "quantitative", "scale": {"domain": [0, 125], "nice": false, "zero": false},
                 "axis": {"orient": "bottom", "values": [10,20,30,40,50,61,71,81,91,101,111,122], "labels": false, "tickSize": -12, "tickWidth": 1.5, "domainWidth": 2.5, "title": null}}}},
        {"data": {"name": "pts"}, "transform": [{"filter": "datum.p == 'Av'"}], "mark": {"type": "errorbar", "color": "black", "thickness": 1.6},
         "encoding": {"x": {"field": "d", "type": "quantitative"},
           "y": {"field": "v", "type": "quantitative", "scale": {"domain": [-0.0475, 0.147], "nice": false, "zero": false},
                 "axis": {"orient": "left", "values": [0.0, 0.1], "format": ".1f", "labelExpr": "replace(datum.label, '\u2212', '-')", "tickSize": 5, "tickWidth": 1.5, "labelPadding": 2, "domainWidth": 2, "title": null}},
           "yError": {"field": "e"}}},
        {"data": {"name": "crv"}, "transform": [{"filter": "datum.p == 'Av'"}], "mark": {"type": "line", "interpolate": "monotone", "color": "black", "strokeWidth": 1.3},
         "encoding": {"x": {"field": "d", "type": "quantitative"}, "y": {"field": "v", "type": "quantitative"}, "detail": {"field": "s"},
           "strokeDash": {"field": "t", "type": "nominal", "scale": {"domain": ["s", "d"], "range": [[1, 0], [8, 5]]}, "legend": null}}},
        {"data": {"name": "pts"}, "transform": [{"filter": "datum.p == 'Av'"}], "mark": {"type": "point", "shape": "circle", "filled": true, "size": 30, "stroke": "black", "strokeWidth": 1, "opacity": 1},
         "encoding": {"x": {"field": "d", "type": "quantitative"}, "y": {"field": "v", "type": "quantitative"},
           "fill": {"field": "o", "type": "nominal", "scale": {"domain": [0, 1], "range": ["black", "white"]}, "legend": null}}},
        {"data": {"name": "lbl"}, "transform": [{"filter": "datum.p == 'Av'"}], "mark": {"type": "text", "fontSize": 24, "baseline": "middle"},
         "encoding": {"x": {"field": "d", "type": "quantitative"}, "y": {"field": "v", "type": "quantitative"}, "text": {"field": "t"}}}
      ]
    },
    {
      "width": 759, "height": 121,
      "layer": [
        {"data": {"name": "ev"}, "mark": {"type": "rule", "strokeWidth": 1.5, "color": "black"},
         "encoding": {"x": {"field": "d", "type": "quantitative", "scale": {"domain": [0, 125], "nice": false, "zero": false},
                 "axis": {"orient": "bottom", "values": [10,20,30,40,50,61,71,81,91,101,111,122], "labels": true, "labelExpr": "'' + date(datetime(1977, 8, datum.value))", "labelPadding": 18, "labelFontSize": 18.5, "labelFlush": false, "labelOverlap": false, "tickSize": -12, "tickWidth": 1.5, "domainWidth": 2.5, "title": null}}}},
        {"data": {"values": [{"d": 15.3}]}, "mark": {"type": "rule", "strokeWidth": 1.2, "color": "black", "strokeDash": [6, 3, 1, 3]},
         "encoding": {"x": {"field": "d", "type": "quantitative"}}},
        {"data": {"name": "pts"}, "transform": [{"filter": "datum.p == 'Bv'"}], "mark": {"type": "errorbar", "color": "black", "thickness": 1.6},
         "encoding": {"x": {"field": "d", "type": "quantitative"},
           "y": {"field": "v", "type": "quantitative", "scale": {"domain": [-0.1482, 0.0482], "nice": false, "zero": false},
                 "axis": {"orient": "left", "values": [-0.1, 0.0], "format": ".1f", "labelExpr": "replace(datum.label, '\u2212', '-')", "tickSize": 5, "tickWidth": 1.5, "labelPadding": 2, "domainWidth": 2, "title": null}},
           "yError": {"field": "e"}}},
        {"data": {"name": "crv"}, "transform": [{"filter": "datum.p == 'Bv'"}], "mark": {"type": "line", "interpolate": "monotone", "color": "black", "strokeWidth": 1.3},
         "encoding": {"x": {"field": "d", "type": "quantitative"}, "y": {"field": "v", "type": "quantitative"}, "detail": {"field": "s"},
           "strokeDash": {"field": "t", "type": "nominal", "scale": {"domain": ["s", "d"], "range": [[1, 0], [8, 5]]}, "legend": null}}},
        {"data": {"name": "pts"}, "transform": [{"filter": "datum.p == 'Bv'"}], "mark": {"type": "point", "shape": "circle", "filled": true, "size": 30, "stroke": "black", "strokeWidth": 1, "opacity": 1},
         "encoding": {"x": {"field": "d", "type": "quantitative"}, "y": {"field": "v", "type": "quantitative"},
           "fill": {"field": "o", "type": "nominal", "scale": {"domain": [0, 1], "range": ["black", "white"]}, "legend": null}}},
        {"data": {"name": "lbl"}, "transform": [{"filter": "datum.p == 'Bv'"}], "mark": {"type": "text", "fontSize": 24, "baseline": "middle"},
         "encoding": {"x": {"field": "d", "type": "quantitative"}, "y": {"field": "v", "type": "quantitative"}, "text": {"field": "t"}}}
      ]
    },
    {
      "width": 759, "height": 43,
      "data": {"name": "mon"},
      "mark": {"type": "text", "fontSize": 19, "baseline": "middle", "dy": 15},
      "encoding": {"x": {"field": "d", "type": "quantitative", "scale": {"domain": [0, 125], "nice": false, "zero": false}, "axis": null}, "text": {"field": "t"}}
    }
  ]
}
